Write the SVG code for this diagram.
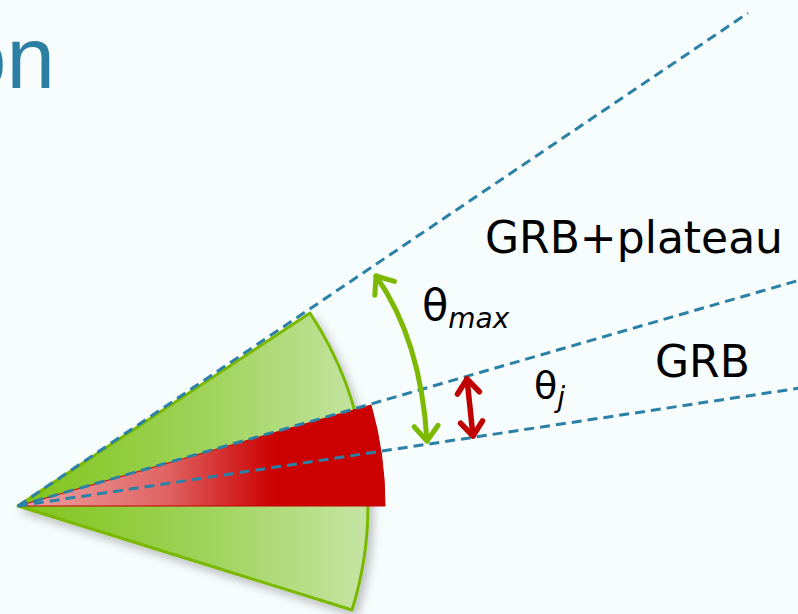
<svg xmlns="http://www.w3.org/2000/svg" width="798" height="614" viewBox="0 0 798 614">
  <style>
    .ray { fill: none; stroke: #2b80a6; stroke-width: 3; stroke-dasharray: 10 6; }
    .lbl { font-family: "DejaVu Sans", "Liberation Sans", sans-serif; fill: #000; }
    .sub { font-style: italic; }
    .garrow { fill: none; stroke: #7cb900; stroke-width: 5; stroke-linecap: round; }
    .rarrow { fill: none; stroke: #c00000; stroke-width: 5.5; stroke-linecap: round; }
  </style>
  <defs>
    <linearGradient id="gGreen" gradientUnits="userSpaceOnUse" x1="18" y1="506" x2="360" y2="506">
      <stop offset="0" stop-color="#80c41a"/>
      <stop offset="0.55" stop-color="#9fd35a"/>
      <stop offset="1" stop-color="#c3e4a0"/>
    </linearGradient>
    <linearGradient id="gRed" gradientUnits="userSpaceOnUse" x1="18" y1="506" x2="385" y2="506">
      <stop offset="0" stop-color="#f0a4a4"/>
      <stop offset="0.4" stop-color="#e06464"/>
      <stop offset="0.7" stop-color="#cc0000"/>
      <stop offset="1" stop-color="#cc0000"/>
    </linearGradient>
    <filter id="shadow" x="-20%" y="-20%" width="140%" height="140%">
      <feDropShadow dx="4" dy="5" stdDeviation="5" flood-color="#000" flood-opacity="0.25"/>
    </filter>
    <marker id="mGreen" markerUnits="userSpaceOnUse" viewBox="-20 -16 24 32" markerWidth="24" markerHeight="32" refX="0" refY="0" orient="auto-start-reverse">
      <path d="M-15,-12 L0,0 L-15,12" fill="none" stroke="#7cb900" stroke-width="5" stroke-linecap="round" stroke-linejoin="round"/>
    </marker>
    <marker id="mRed" markerUnits="userSpaceOnUse" viewBox="-20 -16 24 32" markerWidth="24" markerHeight="32" refX="0" refY="0" orient="auto-start-reverse">
      <path d="M-14,-11 L0,0 L-14,11" fill="none" stroke="#c00000" stroke-width="5.5" stroke-linecap="round" stroke-linejoin="round"/>
    </marker>
  </defs>

  <rect x="0" y="0" width="798" height="614" fill="#f7fcfd"/>

  <g id="title">
    <text x="-42" y="88" font-family="Liberation Sans, Arial, sans-serif" font-size="87" fill="#2b7fa3">on</text>
  </g>

  <g id="sector-plateau">
    <path d="M18,506 L310,313 A350,350 0 0 1 352,610 Z" fill="url(#gGreen)" stroke="#7ab800" stroke-width="3" stroke-linejoin="round" filter="url(#shadow)"/>
  </g>

  <g id="sector-grb">
    <path d="M18,506 L371,405 A367,367 0 0 1 385,506 Z" fill="url(#gRed)" stroke="#c00000" stroke-width="1"/>
  </g>

  <g id="connectors">
    <line class="ray" x1="18" y1="506" x2="748" y2="13"/>
    <line class="ray" x1="18" y1="506" x2="800" y2="280"/>
    <line class="ray" x1="18" y1="506" x2="800" y2="388"/>
    <path class="garrow" d="M376,276 Q421,340 427,441" marker-start="url(#mGreen)" marker-end="url(#mGreen)"/>
    <line class="rarrow" x1="467" y1="379" x2="473" y2="436" marker-start="url(#mRed)" marker-end="url(#mRed)"/>
  </g>

  <g id="labels">
    <text class="lbl" x="485" y="253" font-size="44">GRB+plateau</text>
    <text class="lbl" x="655" y="377" font-size="44">GRB</text>
    <text class="lbl" x="422" y="320" font-size="43">θ<tspan class="sub" font-size="28" dy="8">max</tspan></text>
    <text class="lbl" x="534" y="398" font-size="38">θ<tspan class="sub" font-size="28" dy="9">j</tspan></text>
  </g>
</svg>
